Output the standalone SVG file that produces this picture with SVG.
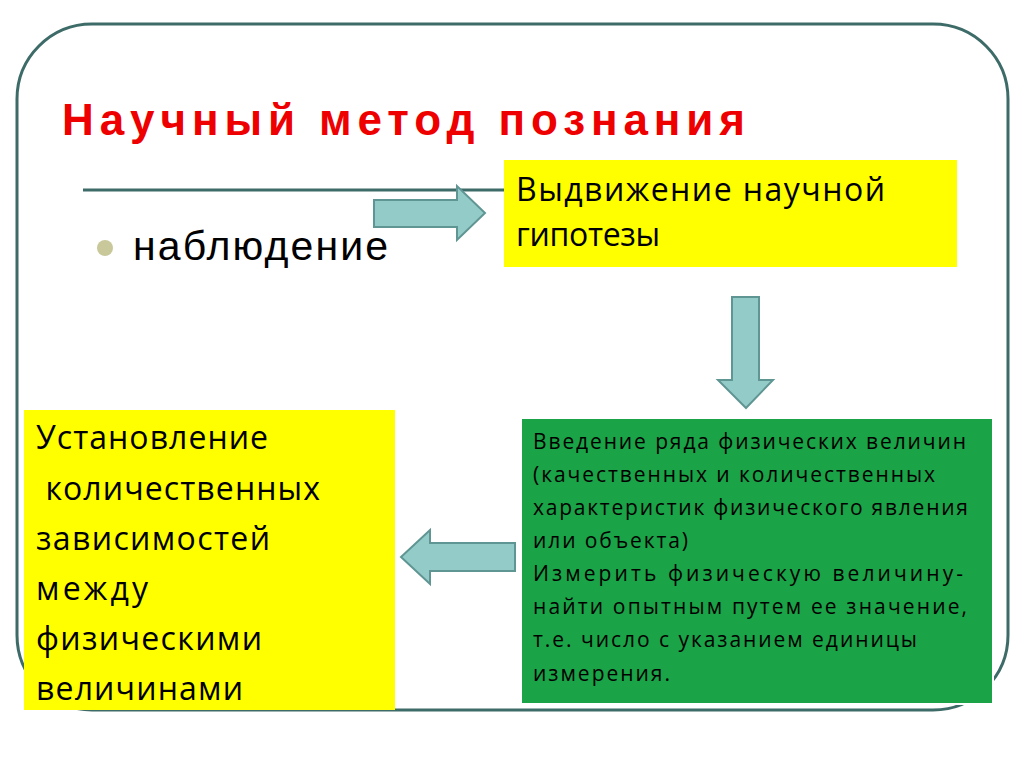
<svg xmlns="http://www.w3.org/2000/svg" width="1024" height="767" viewBox="0 0 1024 767">
<style>
.arr{fill:#93cbc8;stroke:#5f9593;stroke-width:2}
.t{font-family:"Open Sans","Liberation Sans",sans-serif;fill:#000}
</style>
<rect width="1024" height="767" fill="#fff"/>
<rect x="17" y="24" width="991" height="686" rx="75" fill="none" stroke="#3d6b68" stroke-width="3"/>
<text x="62" y="135" font-family="Liberation Sans,Arial,sans-serif" font-weight="bold" font-size="44" fill="#ee0000" textLength="683" lengthAdjust="spacing">Научный метод познания</text>
<line x1="83" y1="190" x2="505" y2="190" stroke="#3d6b68" stroke-width="3"/>
<g id="n1"><circle cx="105" cy="248" r="8" fill="#c8c89a"/>
<text x="133" y="260" font-family="Liberation Sans,Arial,sans-serif" font-size="41" textLength="255" lengthAdjust="spacing">наблюдение</text></g>
<g id="n2"><rect x="504" y="160" width="453" height="107" fill="#ffff00"/>
<text class="t" font-size="32"><tspan x="516" y="201" textLength="369">Выдвижение научной</tspan><tspan x="516" y="246" textLength="144">гипотезы</tspan></text></g>
<g id="n3"><rect x="521" y="418" width="472" height="286" fill="#1aa347" stroke="#fff" stroke-width="2"/>
<text class="t" font-size="21"><tspan x="533" y="449" textLength="433">Введение ряда физических величин</tspan><tspan x="533" y="482" textLength="402">(качественных и количественных</tspan><tspan x="533" y="515" textLength="435">характеристик физического явления</tspan><tspan x="533" y="548" textLength="155">или объекта)</tspan><tspan x="533" y="581" textLength="430">Измерить физическую величину-</tspan><tspan x="533" y="614" textLength="434">найти опытным путем ее значение,</tspan><tspan x="533" y="647" textLength="384">т.е. число с указанием единицы</tspan><tspan x="533" y="681" textLength="137">измерения.</tspan></text></g>
<g id="n4"><rect x="24" y="410" width="371" height="300" fill="#ffff00"/>
<text class="t" font-size="32"><tspan x="36" y="449" textLength="232">Установление</tspan><tspan x="36" y="500" textLength="284"> количественных</tspan><tspan x="36" y="550" textLength="234">зависимостей</tspan><tspan x="36" y="600" textLength="112">между</tspan><tspan x="36" y="650" textLength="226">физическими</tspan><tspan x="36" y="700" textLength="207">величинами</tspan></text></g>
<g id="connectors">
<polygon class="arr" points="374,200 457,200 457,186 485,213 457,240 457,227 374,227"/>
<polygon class="arr" points="732,297 759,297 759,380 773,380 746,408 718,380 732,380"/>
<polygon class="arr" points="515,543 430,543 430,530 401,557 430,584 430,571 515,571"/>
</g>
</svg>
